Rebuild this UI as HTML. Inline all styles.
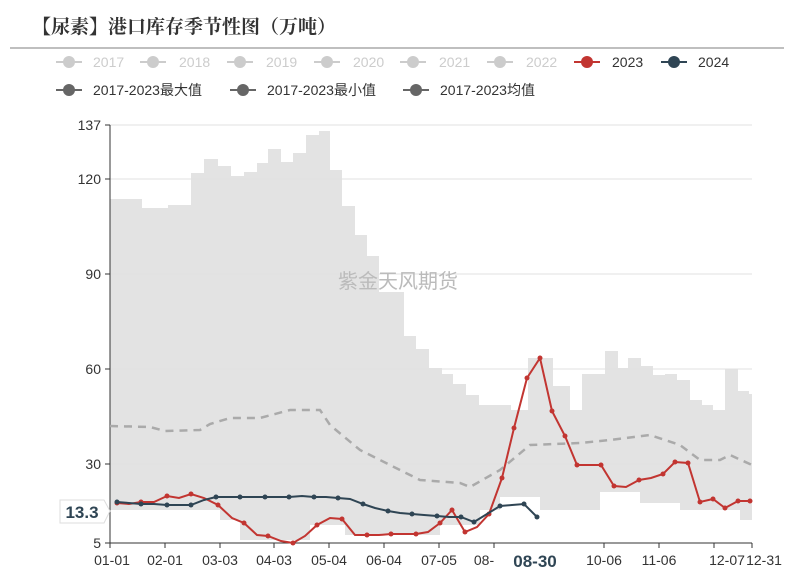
<!DOCTYPE html>
<html><head><meta charset="utf-8"><style>
body{margin:0;background:#fff;}
svg{display:block;font-family:"Liberation Sans","Noto Sans CJK SC",sans-serif;}
</style></head><body>
<svg width="796" height="575" viewBox="0 0 796 575">
<text x="32" y="33" font-size="19" font-weight="bold" fill="#333" font-family="'Noto Serif CJK SC','Noto Sans CJK SC',serif">【尿素】港口库存季节性图（万吨）</text>
<line x1="10" y1="48" x2="784" y2="48" stroke="#aaa" stroke-width="1.5"/>
<g font-size="14">
<g fill="#ccc" stroke="#ccc">
<line x1="56" y1="62" x2="82" y2="62" stroke-width="2"/><circle cx="69" cy="62" r="6" stroke="none"/>
<line x1="140" y1="62" x2="166" y2="62" stroke-width="2"/><circle cx="153" cy="62" r="6" stroke="none"/>
<line x1="227" y1="62" x2="253" y2="62" stroke-width="2"/><circle cx="240" cy="62" r="6" stroke="none"/>
<line x1="314" y1="62" x2="340" y2="62" stroke-width="2"/><circle cx="327" cy="62" r="6" stroke="none"/>
<line x1="400" y1="62" x2="426" y2="62" stroke-width="2"/><circle cx="413" cy="62" r="6" stroke="none"/>
<line x1="487" y1="62" x2="513" y2="62" stroke-width="2"/><circle cx="500" cy="62" r="6" stroke="none"/>
</g>
<g fill="#ccc"><text x="93" y="67">2017</text><text x="179" y="67">2018</text><text x="266" y="67">2019</text><text x="353" y="67">2020</text><text x="439" y="67">2021</text><text x="526" y="67">2022</text></g>
<line x1="574" y1="62" x2="600" y2="62" stroke="#c23531" stroke-width="2"/><circle cx="587" cy="62" r="6" fill="#c23531"/>
<text x="612" y="67" fill="#333">2023</text>
<line x1="661" y1="62" x2="687" y2="62" stroke="#2f4554" stroke-width="2"/><circle cx="674" cy="62" r="6" fill="#2f4554"/>
<text x="698" y="67" fill="#333">2024</text>
<g fill="#666" stroke="#666">
<line x1="56" y1="90" x2="82" y2="90" stroke-width="2"/><circle cx="69" cy="90" r="6" stroke="none"/>
<line x1="230" y1="90" x2="256" y2="90" stroke-width="2"/><circle cx="243" cy="90" r="6" stroke="none"/>
<line x1="403" y1="90" x2="429" y2="90" stroke-width="2"/><circle cx="416" cy="90" r="6" stroke="none"/>
</g>
<g fill="#333"><text x="93" y="95">2017-2023最大值</text><text x="267" y="95">2017-2023最小值</text><text x="440" y="95">2017-2023均值</text></g>
</g>
<path fill="#e3e3e3" d="M110,199 H142 V208 H168 V205 H191 V173 H204 V159 H218 V166 H231 V176 H244 V172 H257 V163 H268 V149 H281 V162 H293 V153 H306 V135 H319 V131 H330 V170 H342 V206 H355 V235 H367 V256 H379 V292 H404 V336 H416 V349 H429 V368 H442 V374 H453 V384 H466 V395 H479 V405 H511 V410 H528 V358 H553 V386 H570 V410 H582 V374 H605 V351 H618 V368 H628 V358 H641 V366 H653 V375 H665 V374 H677 V380 H690 V400 H702 V405 H713 V410 H725 V369 H738 V391 H749 V394 H752 V520 H740 V510 H680 V503 H640 V492 H600 V510 H540 V497 H500 V510 H480 V525 H440 V535 H345 V525 H310 V540 H240 V520 H220 V510 H110 Z"/>
<g stroke="#e0e0e0" stroke-width="1">
<line x1="110" y1="125" x2="752" y2="125"/><line x1="110" y1="179" x2="752" y2="179"/><line x1="110" y1="274" x2="752" y2="274"/><line x1="110" y1="369" x2="752" y2="369"/><line x1="110" y1="464" x2="752" y2="464"/>
</g>
<text x="398" y="288" font-size="20" fill="#bbb" text-anchor="middle">紫金天风期货</text>
<line x1="110" y1="125" x2="110" y2="543" stroke="#333"/>
<line x1="110" y1="543" x2="752" y2="543" stroke="#333"/>
<g stroke="#333">
<line x1="105" y1="125" x2="110" y2="125"/><line x1="105" y1="179" x2="110" y2="179"/><line x1="105" y1="274" x2="110" y2="274"/><line x1="105" y1="369" x2="110" y2="369"/><line x1="105" y1="464" x2="110" y2="464"/><line x1="105" y1="543" x2="110" y2="543"/>
<line x1="110" y1="543" x2="110" y2="548"/><line x1="165" y1="543" x2="165" y2="548"/><line x1="220" y1="543" x2="220" y2="548"/><line x1="274" y1="543" x2="274" y2="548"/><line x1="329" y1="543" x2="329" y2="548"/><line x1="384" y1="543" x2="384" y2="548"/><line x1="439" y1="543" x2="439" y2="548"/><line x1="494" y1="543" x2="494" y2="548"/><line x1="604" y1="543" x2="604" y2="548"/><line x1="659" y1="543" x2="659" y2="548"/><line x1="714" y1="543" x2="714" y2="548"/><line x1="752" y1="543" x2="752" y2="548"/>
</g>
<g font-size="14" fill="#333" text-anchor="end">
<text x="101" y="130">137</text><text x="101" y="184">120</text><text x="101" y="279">90</text><text x="101" y="374">60</text><text x="101" y="469">30</text><text x="101" y="548">5</text>
</g>
<g font-size="14" fill="#333" text-anchor="middle">
<text x="112" y="565">01-01</text><text x="165" y="565">02-01</text><text x="220" y="565">03-03</text><text x="274" y="565">04-03</text><text x="329" y="565">05-04</text><text x="384" y="565">06-04</text><text x="439" y="565">07-05</text><text x="484" y="565">08-</text><text x="604" y="565">10-06</text><text x="659" y="565">11-06</text><text x="727" y="565">12-07</text><text x="764" y="565">12-31</text>
</g>
<text x="535" y="567" font-size="17" font-weight="bold" fill="#2f4554" text-anchor="middle">08-30</text>
<path d="M60,500 H104 L110,511 L104,523 H60 Z" fill="#fff" stroke="#ddd"/>
<text x="82" y="518" font-size="17" font-weight="bold" fill="#2f4554" text-anchor="middle">13.3</text>
<polyline fill="none" stroke="#aaa" stroke-width="2.5" stroke-dasharray="8,6" points="110,426 150,427 165,431 200,430 210,424 230,418 260,418 290,410 320,410 330,425 360,450 400,470 420,480 460,483 470,487 500,470 530,445 580,443 610,440 650,435 680,445 700,460 720,460 730,455 752,465"/>
<g fill="#c23531">
<polyline fill="none" stroke="#c23531" stroke-width="2" points="117,503 129,504 141,502 154,502 167,496 179,498 191,494 204,498 218,505 232,518 244,523 257,535 268,536 281,541 293,543 305,536 317,525 330,518 342,519 355,535 367,535 379,535 391,534 404,534 416,534 428,532 440,523 452,510 465,532 477,527 489,514 502,478 514,428 527,378 540,358 552,411 565,436 577,465 589,465 601,465 614,486 626,487 639,480 651,478 663,474 675,462 688,463 700,502 713,499 725,508 738,501 750,501"/>
<circle cx="117" cy="503" r="2.5"/><circle cx="141" cy="502" r="2.5"/><circle cx="167" cy="496" r="2.5"/><circle cx="191" cy="494" r="2.5"/><circle cx="218" cy="505" r="2.5"/><circle cx="244" cy="523" r="2.5"/><circle cx="268" cy="536" r="2.5"/><circle cx="293" cy="543" r="2.5"/><circle cx="317" cy="525" r="2.5"/><circle cx="342" cy="519" r="2.5"/><circle cx="367" cy="535" r="2.5"/><circle cx="391" cy="534" r="2.5"/><circle cx="416" cy="534" r="2.5"/><circle cx="440" cy="523" r="2.5"/><circle cx="452" cy="510" r="2.5"/><circle cx="465" cy="532" r="2.5"/><circle cx="489" cy="514" r="2.5"/><circle cx="502" cy="478" r="2.5"/><circle cx="514" cy="428" r="2.5"/><circle cx="527" cy="378" r="2.5"/><circle cx="540" cy="358" r="2.5"/><circle cx="552" cy="411" r="2.5"/><circle cx="565" cy="436" r="2.5"/><circle cx="577" cy="465" r="2.5"/><circle cx="601" cy="465" r="2.5"/><circle cx="614" cy="486" r="2.5"/><circle cx="639" cy="480" r="2.5"/><circle cx="663" cy="474" r="2.5"/><circle cx="675" cy="462" r="2.5"/><circle cx="688" cy="463" r="2.5"/><circle cx="700" cy="502" r="2.5"/><circle cx="713" cy="499" r="2.5"/><circle cx="725" cy="508" r="2.5"/><circle cx="738" cy="501" r="2.5"/><circle cx="750" cy="501" r="2.5"/>
</g>
<g fill="#2f4554">
<polyline fill="none" stroke="#2f4554" stroke-width="2" points="117,502 129,503 141,504 154,504 167,505 179,505 191,505 204,500 216,497 228,497 240,497 253,497 265,497 277,497 289,497 302,496 314,497 326,497 338,498 350,499 363,504 375,508 388,511 400,513 412,514 424,515 437,516 449,517 461,517 474,522 487,514 500,506 512,505 524,504 537,517"/>
<circle cx="117" cy="502" r="2.5"/><circle cx="141" cy="504" r="2.5"/><circle cx="167" cy="505" r="2.5"/><circle cx="191" cy="505" r="2.5"/><circle cx="216" cy="497" r="2.5"/><circle cx="240" cy="497" r="2.5"/><circle cx="265" cy="497" r="2.5"/><circle cx="289" cy="497" r="2.5"/><circle cx="314" cy="497" r="2.5"/><circle cx="338" cy="498" r="2.5"/><circle cx="363" cy="504" r="2.5"/><circle cx="388" cy="511" r="2.5"/><circle cx="412" cy="514" r="2.5"/><circle cx="437" cy="516" r="2.5"/><circle cx="461" cy="517" r="2.5"/><circle cx="474" cy="522" r="2.5"/><circle cx="500" cy="506" r="2.5"/><circle cx="524" cy="504" r="2.5"/><circle cx="537" cy="517" r="2.5"/>
</g>
</svg>
</body></html>
